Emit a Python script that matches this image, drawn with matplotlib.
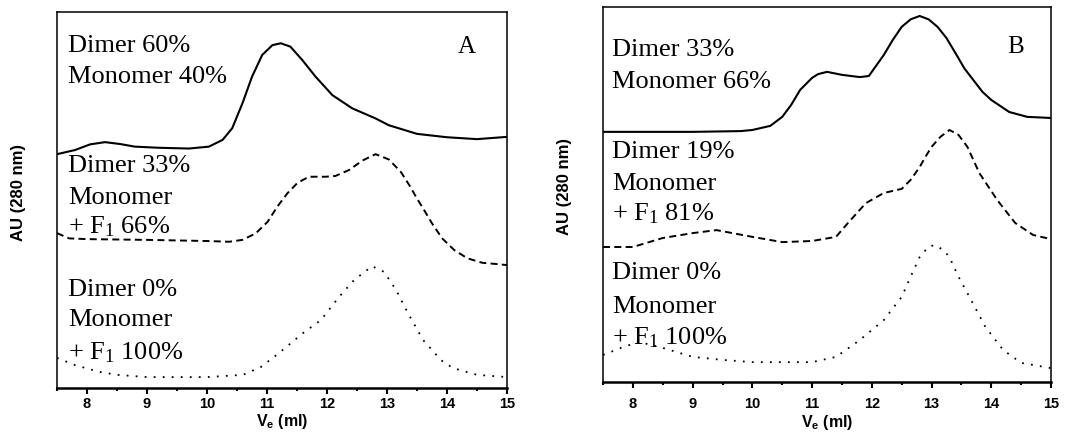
import matplotlib.pyplot as plt
from matplotlib.ticker import MultipleLocator

plt.rcParams['mathtext.fontset'] = 'custom'
plt.rcParams['mathtext.rm'] = 'Liberation Serif'
plt.rcParams['mathtext.it'] = 'Liberation Serif:italic'
plt.rcParams['mathtext.bf'] = 'Liberation Sans:bold'

# elution volume (ml) and absorbance traces, panel A
a_solid_x = [7.5, 7.8, 8.05, 8.3, 8.55, 8.8, 9.2, 9.7, 10.03, 10.26, 10.42, 10.59, 10.75, 10.92,
             11.09, 11.23, 11.39, 11.59, 11.81, 12.09, 12.42, 12.81, 13.03, 13.5, 14.0, 14.5, 15.0]
a_solid_y = [62.2, 63.3, 64.8, 65.4, 64.9, 64.2, 63.9, 63.7, 64.2, 66.0, 69.1, 75.7, 82.8, 88.6,
             91.2, 91.7, 90.8, 87.2, 82.8, 77.9, 74.4, 71.7, 69.9, 67.6, 66.7, 66.2, 66.8]
a_dash_x = [7.5, 7.7, 8.0, 9.0, 10.0, 10.37, 10.59, 10.81, 11.01, 11.17, 11.34, 11.51, 11.70,
            11.98, 12.14, 12.37, 12.59, 12.81, 13.03, 13.23, 13.37, 13.50, 13.62, 13.75, 13.92,
            14.12, 14.34, 14.59, 14.81, 15.0]
a_dash_y = [41.2, 39.8, 39.6, 39.4, 39.1, 38.9, 39.4, 41.1, 44.2, 48.2, 51.8, 54.6, 56.2,
            56.2, 56.4, 58.0, 60.5, 62.2, 60.8, 57.5, 54.0, 50.4, 47.3, 43.8, 39.8,
            36.7, 34.5, 33.3, 33.0, 32.7]
a_dot_x = [7.5, 7.8, 8.2, 8.5, 9.0, 10.0, 10.6, 10.9, 11.2, 11.6, 11.9, 12.2, 12.45, 12.75,
           12.95, 13.15, 13.35, 13.6, 13.9, 14.1, 14.5, 15.0]
a_dot_y = [8.0, 6.1, 4.3, 3.5, 2.9, 2.9, 3.5, 5.6, 9.3, 14.6, 18.1, 24.2, 28.7, 32.4,
           30.9, 26.1, 19.9, 12.8, 7.4, 5.3, 3.5, 2.9]

# panel B
b_solid_x = [7.5, 9.0, 9.8, 10.0, 10.3, 10.5, 10.65, 10.8, 11.0, 11.1, 11.25, 11.5, 11.8, 11.95,
             12.2, 12.35, 12.5, 12.65, 12.8, 12.95, 13.1, 13.25, 13.4, 13.55, 13.7, 13.85,
             14.0, 14.3, 14.6, 15.0]
b_solid_y = [66.7, 66.7, 66.9, 67.2, 68.3, 70.7, 73.9, 77.9, 81.1, 82.1, 82.7, 81.9, 81.3, 81.6,
             87.2, 91.2, 94.7, 96.7, 97.6, 96.7, 94.7, 91.7, 87.7, 83.6, 80.5, 77.4,
             75.2, 72.0, 70.7, 70.4]
b_dash_x = [7.5, 8.0, 8.5, 9.0, 9.4, 10.0, 10.5, 11.0, 11.4, 11.6, 11.9, 12.2, 12.5, 12.65,
            12.8, 12.9, 13.0, 13.15, 13.3, 13.45, 13.6, 13.8, 14.1, 14.4, 14.7, 15.0]
b_dash_y = [36.0, 36.0, 38.4, 39.7, 40.5, 38.7, 37.3, 37.6, 38.7, 42.4, 47.7, 50.4, 51.5, 53.9,
            57.3, 60.1, 62.7, 65.4, 67.2, 65.9, 62.7, 55.7, 48.5, 42.4, 39.2, 38.1]
b_dot_x = [7.5, 7.8, 8.1, 8.5, 9.0, 9.5, 10.0, 11.0, 11.4, 11.8, 12.2, 12.5, 12.65, 12.8,
           12.95, 13.05, 13.2, 13.3, 13.45, 13.6, 13.9, 14.2, 14.5, 15.0]
b_dot_y = [7.2, 9.1, 10.7, 9.1, 6.7, 5.9, 5.3, 5.3, 6.7, 11.2, 16.5, 22.7, 28.1, 33.3,
           36.1, 36.5, 35.2, 33.3, 28.1, 23.7, 14.7, 8.5, 5.1, 3.7]

tick_vals = [8, 9, 10, 11, 12, 13, 14, 15]

# annotation lines and their baselines
a_text = ["Dimer 60%", "Monomer 40%",
          "Dimer 33%", "Monomer", "+ F$_\\mathrm{1}$ 66%",
          "Dimer 0%", "Monomer", "+ F$_\\mathrm{1}$ 100%"]
a_text_y = [89.4, 81.1, 57.4, 48.9, 41.0, 24.5, 16.5, 7.7]
b_text = ["Dimer 33%", "Monomer 66%",
          "Dimer 19%", "Monomer", "+ F$_\\mathrm{1}$ 81%",
          "Dimer 0%", "Monomer", "+ F$_\\mathrm{1}$ 100%"]
b_text_y = [86.9, 78.4, 59.7, 51.2, 43.2, 27.5, 18.4, 10.1]

fig = plt.figure(figsize=(10.78, 4.47), dpi=100)
axA = fig.add_axes([0.0529, 0.132, 0.4174, 0.841])
axB = fig.add_axes([0.5594, 0.1454, 0.4156, 0.839])

serif = "Liberation Serif"
sans = "Liberation Sans"

panels = [
    (axA, (a_solid_x, a_solid_y), (a_dash_x, a_dash_y), (a_dot_x, a_dot_y),
     a_text, a_text_y, 7.68, "A", 14.33, 90.7, 2.5, -0.064),
    (axB, (b_solid_x, b_solid_y), (b_dash_x, b_dash_y), (b_dot_x, b_dot_y),
     b_text, b_text_y, 7.65, "B", 14.4, 89.3, 6.5, -0.083),
]

for ax, solid, dash, dot, lines, lines_y, tx, tag, tag_x, tag_y, pad, xl_y in panels:
    ax.plot(*solid, color="black", lw=1.5, solid_joinstyle="round")
    ax.plot(*dash, color="black", lw=1.4, dashes=(3.6, 2.2))
    ax.plot(*dot, color="black", lw=1.3, dashes=(1, 4))
    ax.set_xlim(7.5, 15)
    ax.set_ylim(0, 100)
    ax.xaxis.set_minor_locator(MultipleLocator(0.5))
    ax.set_xticks(tick_vals)
    ax.set_yticks([])
    ax.tick_params(axis="x", which="major", direction="out", length=4, width=1.5, pad=pad)
    ax.tick_params(axis="x", which="minor", direction="out", length=2.5, width=1.5)
    for lab in ax.get_xticklabels():
        lab.set_fontfamily(sans)
        lab.set_fontweight("bold")
        lab.set_fontsize(10.5)
    for side in ["top", "left", "right"]:
        ax.spines[side].set_linewidth(1.1)
    ax.spines["bottom"].set_linewidth(1.8)
    for txt, y0 in zip(lines, lines_y):
        ax.text(tx, y0, txt, family=serif, fontsize=19, va="baseline", ha="left")
    ax.text(tag_x, tag_y, tag, family=serif, fontsize=18, ha="center", va="center")
    ax.set_xlabel("V$_\\mathbf{e}$ (ml)", family=sans, fontweight="bold", fontsize=11.5)
    ax.xaxis.set_label_coords(0.5, xl_y)
    ax.set_ylabel("AU (280 nm)", family=sans, fontweight="bold", fontsize=12)
    ax.yaxis.set_label_coords(-0.07, 0.52)

fig.savefig("out.png", dpi=100)
